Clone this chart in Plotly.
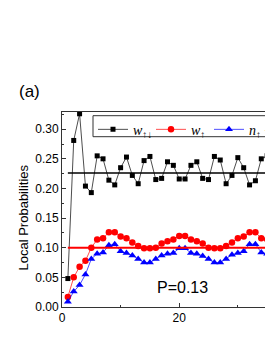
import plotly.graph_objects as go

# ---------------- data ----------------
sites = list(range(1, 37))
w_updown = [0.048, 0.281, 0.326, 0.204, 0.193, 0.255, 0.250, 0.214, 0.206, 0.235,
            0.253, 0.222, 0.208, 0.247, 0.254, 0.215, 0.217, 0.245, 0.239, 0.216,
            0.216, 0.239, 0.245, 0.217, 0.215, 0.254, 0.248, 0.208, 0.222, 0.252,
            0.235, 0.206, 0.213, 0.250, 0.255, 0.193]
w_up = [0.017, 0.050, 0.068, 0.078, 0.100, 0.114, 0.116, 0.126, 0.126, 0.119,
        0.116, 0.109, 0.103, 0.099, 0.099, 0.100, 0.107, 0.111, 0.114, 0.120,
        0.120, 0.114, 0.111, 0.107, 0.100, 0.099, 0.099, 0.103, 0.109, 0.116,
        0.119, 0.126, 0.126, 0.116, 0.114, 0.100]
n_diff = [0.009, 0.026, 0.037, 0.055, 0.081, 0.090, 0.092, 0.104, 0.106, 0.094,
          0.091, 0.087, 0.081, 0.075, 0.075, 0.081, 0.087, 0.090, 0.091, 0.099,
          0.099, 0.091, 0.090, 0.086, 0.081, 0.075, 0.075, 0.081, 0.088, 0.091,
          0.094, 0.106, 0.106, 0.092, 0.090, 0.081]
mean_w_updown = 0.226
mean_w_up = 0.100
x_max = 36.0
y_max = 0.329
p_label = "P=0.13"
panel_label = "(a)"
y_title = "Local Probabilities"

# ---------------- figure ----------------
BODY = 8  # default page body margin of the html page
W, H = 273, 353
ML, MR, MT, MB = 54, 8, 104, 54
pw = W - ML - MR
ph = H - MT - MB


def px(xp):
    """page pixel x -> paper x"""
    return (xp - BODY - ML) / pw


def py(yp):
    """page pixel y -> paper y"""
    return 1 - (yp - BODY - MT) / ph


fig = go.Figure()

mean_x = [sites[0], x_max + 5]

fig.add_trace(go.Scatter(
    x=sites, y=w_updown, mode="lines+markers",
    line=dict(color="black", width=0.7),
    marker=dict(symbol="square", size=5, color="black"),
    name='<span style="font-family:Liberation Serif"><i>w</i><sub>↑↓</sub></span>',
))
fig.add_trace(go.Scatter(
    x=sites, y=w_up, mode="lines+markers",
    line=dict(color="red", width=0.7),
    marker=dict(symbol="circle", size=6.5, color="red"),
    name='<span style="font-family:Liberation Serif"><i>w</i><sub>↑</sub></span>',
))
fig.add_trace(go.Scatter(
    x=sites, y=n_diff, mode="lines+markers",
    line=dict(color="blue", width=0.7),
    marker=dict(symbol="triangle-up", size=7, color="blue"),
    name='<span style="font-family:Liberation Serif"><i>n</i><sub>↑</sub> − <i>n</i><sub>↓</sub></span>',
))
fig.add_trace(go.Scatter(
    x=mean_x, y=[mean_w_updown] * 2, mode="lines",
    line=dict(color="black", width=1.5), showlegend=False,
))
fig.add_trace(go.Scatter(
    x=mean_x, y=[mean_w_up] * 2, mode="lines",
    line=dict(color="red", width=2), showlegend=False,
))

axis_font = dict(family="Liberation Sans, Arial, sans-serif", size=12, color="black")

fig.update_xaxes(
    range=[0, x_max], showline=True, linecolor="#333", linewidth=1, mirror=True,
    ticks="inside", ticklen=4, tickcolor="#333", tick0=0, dtick=20,
    minor=dict(ticks="inside", ticklen=2, dtick=10, tickcolor="#333"),
    showgrid=False, zeroline=False, tickfont=axis_font,
)
fig.update_yaxes(
    range=[0, y_max], showline=True, linecolor="#333", linewidth=1, mirror=False,
    ticks="inside", ticklen=4, tickcolor="#333", tick0=0, dtick=0.05,
    tickformat=".2f",
    minor=dict(ticks="inside", ticklen=2, dtick=0.025, tickcolor="#333"),
    showgrid=False, zeroline=False, tickfont=axis_font,
)

leg_x0 = px(93)
leg_y1 = py(115.7)
leg_y0 = py(136.7)

fig.add_shape(type="rect", xref="paper", yref="paper",
              x0=leg_x0, x1=1.3, y0=leg_y0, y1=leg_y1,
              line=dict(color="#333", width=1), fillcolor="white", layer="above")

fig.update_layout(
    width=W, height=H,
    margin=dict(l=ML, r=MR, t=MT, b=MB),
    paper_bgcolor="white", plot_bgcolor="white",
    showlegend=True,
    legend=dict(
        orientation="h", x=leg_x0, y=leg_y1 + 0.01, xanchor="left", yanchor="top",
        entrywidth=13, bgcolor="rgba(0,0,0,0)", borderwidth=0,
        font=dict(family="Liberation Serif", size=14, color="black"),
    ),
    annotations=[
        dict(text=panel_label, xref="paper", yref="paper",
             x=px(17), y=py(92), xanchor="left", yanchor="middle",
             showarrow=False, font=dict(family="Liberation Sans, Arial", size=17, color="black")),
        dict(text=y_title, xref="paper", yref="paper", textangle=-90,
             x=px(23), y=py(217.5), xanchor="center", yanchor="middle",
             showarrow=False, font=dict(family="Liberation Sans, Arial", size=13, color="black")),
        dict(text=p_label, xref="paper", yref="paper",
             x=px(182), y=py(287), xanchor="center", yanchor="middle",
             showarrow=False, font=dict(family="Liberation Sans, Arial", size=16, color="black")),
    ],
)

fig.write_html("out.html")
